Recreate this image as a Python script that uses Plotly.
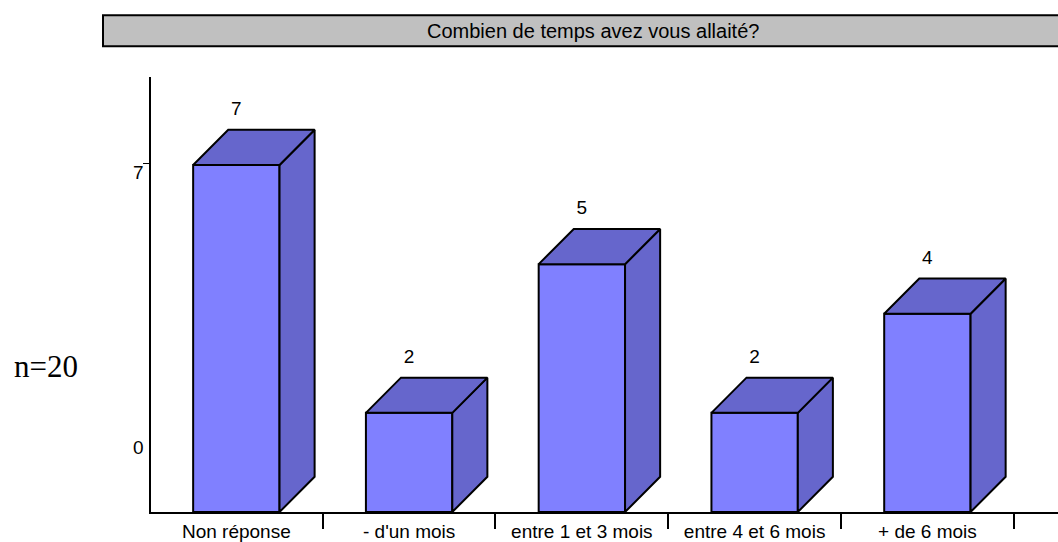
"""
3D-style bar chart: Combien de temps avez vous allaité?
"""
import plotly.graph_objects as go

categories = ['Non réponse', "- d'un mois", 'entre 1 et 3 mois', 'entre 4 et 6 mois', '+ de 6 mois']
values = [7, 2, 5, 2, 4]

W, H = 1058, 542
FRONT = '#8080FF'
SHADE = '#6666CC'
BAR_WIDTH = 0.5
DX = 0.203  # depth of the box, in x units
DY = 0.71   # depth of the box, in y units
LABEL_GAP = 0.2
X_RANGE = [-0.494, 4.756]
Y_RANGE = [0, 8.775]
FONT = 'Liberation Sans'

fig = go.Figure()

# front faces
fig.add_trace(go.Bar(
    x=categories,
    y=values,
    width=BAR_WIDTH,
    marker=dict(color=FRONT, line=dict(color='black', width=2)),
    hoverinfo='x+y'
))

# side and top faces, on a hidden numeric axis lined up with the categories
for i, v in enumerate(values):
    left, right = i - BAR_WIDTH / 2, i + BAR_WIDTH / 2
    fig.add_trace(go.Scatter(
        x=[right, right + DX, right + DX, right, right],
        y=[0, DY, v + DY, v, 0],
        xaxis='x2', mode='lines', fill='toself', fillcolor=SHADE,
        line=dict(color='black', width=2), hoverinfo='skip'
    ))
    fig.add_trace(go.Scatter(
        x=[left, left + DX, right + DX, right, left],
        y=[v, v + DY, v + DY, v, v],
        xaxis='x2', mode='lines', fill='toself', fillcolor=SHADE,
        line=dict(color='black', width=2), hoverinfo='skip'
    ))

# value labels above the boxes
fig.add_trace(go.Scatter(
    x=list(range(len(values))),
    y=[v + DY + LABEL_GAP for v in values],
    xaxis='x2', mode='text',
    text=[str(v) for v in values],
    textposition='top center',
    textfont=dict(family=FONT, size=19, color='black'),
    hoverinfo='skip'
))

fig.update_layout(
    width=W, height=H,
    margin=dict(l=151, r=0, t=77, b=27.5),
    autosize=False,
    showlegend=False,
    paper_bgcolor='white',
    plot_bgcolor='white',
    font=dict(family=FONT, size=19, color='black'),
    xaxis=dict(
        type='category', categoryorder='array', categoryarray=categories,
        range=X_RANGE, tickson='boundaries', ticks='outside', ticklen=15,
        tickwidth=2, tickcolor='black', showgrid=False, zeroline=False,
        showline=True, linecolor='black', linewidth=2, ticklabelstandoff=1,
        tickfont=dict(family=FONT, size=19)
    ),
    xaxis2=dict(
        overlaying='x', range=X_RANGE, visible=False, showgrid=False, zeroline=False
    ),
    yaxis=dict(
        range=Y_RANGE, tickvals=[7.04], ticktext=[''], ticks='outside', ticklen=6,
        tickwidth=1, tickcolor='black', showgrid=False, zeroline=False,
        showline=True, linecolor='black', linewidth=2
    ),
    shapes=[dict(
        type='rect', xref='paper', yref='paper', layer='below',
        x0=(103 - 151) / 907, x1=(1062 - 151) / 907,
        y0=(514.5 - 46) / 437.5, y1=(514.5 - 15) / 437.5,
        fillcolor='#C0C0C0', line=dict(color='black', width=2)
    )],
    annotations=[
        dict(text='Combien de temps avez vous allaité?', xref='paper', yref='paper',
             x=(593 - 151) / 907, y=(514.5 - 31) / 437.5, showarrow=False,
             xanchor='center', yanchor='middle',
             font=dict(family=FONT, size=20)),
        dict(text='n=20', xref='paper', yref='paper',
             x=(45.5 - 151) / 907, y=(514.5 - 368) / 437.5, showarrow=False,
             xanchor='center', yanchor='middle',
             font=dict(family='Liberation Serif', size=31)),
        dict(text='7', xref='paper', yref='y', x=(138 - 151) / 907, y=7,
             yshift=-8, showarrow=False, xanchor='center', yanchor='middle',
             font=dict(family=FONT, size=19)),
        dict(text='0', xref='paper', yref='y', x=(138 - 151) / 907, y=0,
             yshift=65, showarrow=False, xanchor='center', yanchor='middle',
             font=dict(family=FONT, size=19)),
    ]
)

# the page's default body margin would push the fixed-size figure off the window
fig.write_html("out.html", config=dict(displayModeBar=False),
               post_script="document.body.style.margin='0';document.body.style.overflow='hidden';")
